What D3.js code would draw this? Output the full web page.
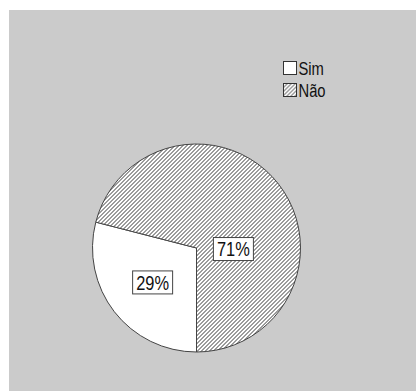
<!DOCTYPE html>
<html>
<head>
<meta charset="utf-8">
<script src="https://cdn.jsdelivr.net/npm/d3@7"></script>
<style>
  body { margin: 0; background: #fff; }
  svg { display: block; font-family: "Liberation Sans", Arial, sans-serif; }
</style>
</head>
<body>
<svg class="chart"></svg>
<script>
const categories = ['Sim', 'Não']
const values = [29, 71]
const labels = ['29%', '71%']

const width = 416
const height = 391
const cx = 196.5
const cy = 248
const radius = 104
const narrow = 0.82 // reference font is a condensed sans

const chart = d3.select('.chart')
  .attr('width', width)
  .attr('height', height)

const defs = chart.append('defs')
const hatch = defs.append('pattern')
  .attr('id', 'hatch')
  .attr('patternUnits', 'userSpaceOnUse')
  .attr('width', 4)
  .attr('height', 4)
hatch.append('rect').attr('width', 4).attr('height', 4).attr('fill', '#fff')
hatch.append('path')
  .attr('d', 'M-1,1 l2,-2 M0,4 l4,-4 M3,5 l2,-2')
  .attr('stroke', '#3a3a3a')
  .attr('stroke-width', 1)

const fills = d3.scaleOrdinal()
  .domain(categories)
  .range(['#fff', 'url(#hatch)'])

const condense = (sel) => sel.each(function () {
  const w = this.getComputedTextLength()
  d3.select(this)
    .attr('textLength', w * narrow)
    .attr('lengthAdjust', 'spacingAndGlyphs')
})

// panel
chart.append('rect')
  .attr('x', 9)
  .attr('y', 10)
  .attr('width', width - 9)
  .attr('height', height - 10)
  .attr('fill', '#cbcbcb')

const pie = d3.pie()
  .sort(null)
  .value(d => d.value)
  .startAngle(Math.PI)
  .endAngle(3 * Math.PI)

const arcs = pie(categories.map((c, i) => ({ name: c, value: values[i], label: labels[i] })))

const arc = d3.arc().innerRadius(0).outerRadius(radius)

const g = chart.append('g').attr('transform', `translate(${cx},${cy})`)

g.selectAll('path.slice')
  .data(arcs)
  .enter()
  .append('path')
  .attr('class', 'slice')
  .attr('d', arc)
  .attr('fill', d => fills(d.data.name))
  .attr('stroke', '#444')
  .attr('stroke-width', 1)

// label placement: Sim on its centroid, Não pulled toward the right of center
const labelArc = d3.arc().innerRadius(0).outerRadius(radius * 1.08)
const labelPos = (d, i) => {
  if (i === 0) return labelArc.centroid(d)
  return [radius * 0.35, radius * 0.01]
}

const lab = g.selectAll('g.lab')
  .data(arcs)
  .enter()
  .append('g')
  .attr('class', 'lab')
  .attr('transform', (d, i) => `translate(${labelPos(d, i)})`)

lab.append('rect')
  .attr('x', -19.5)
  .attr('y', -11.5)
  .attr('width', 40)
  .attr('height', 23)
  .attr('fill', '#fff')
  .attr('stroke', '#444')

lab.append('text')
  .attr('text-anchor', 'middle')
  .attr('x', 0.5)
  .attr('dy', '0.36em')
  .attr('font-size', 20)
  .attr('fill', '#111')
  .text(d => d.data.label)
  .call(condense)

// legend
const legend = chart.append('g').attr('transform', 'translate(283.5,61.5)')
const item = legend.selectAll('g')
  .data(categories)
  .enter()
  .append('g')
  .attr('transform', (d, i) => `translate(0,${i * 22})`)
item.append('rect')
  .attr('width', 13)
  .attr('height', 13)
  .attr('fill', d => fills(d))
  .attr('stroke', '#333')
item.append('text')
  .attr('x', 15)
  .attr('y', 13.5)
  .attr('font-size', 18)
  .attr('fill', '#111')
  .text(d => d)
  .call(condense)
</script>
</body>
</html>
